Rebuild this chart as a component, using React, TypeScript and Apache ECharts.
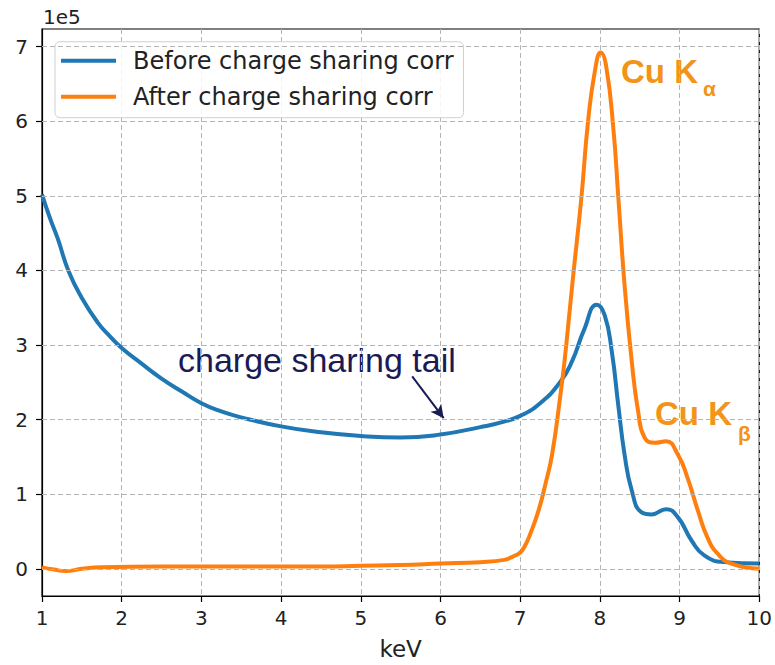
import React, { useEffect, useRef } from "react";
import * as echarts from "echarts";

// Energy (keV) and counts (in units of 1e5)
const beforeKeV = [1.0, 1.1, 1.2, 1.33, 1.5, 1.7, 1.85, 2.0, 2.25, 2.5, 2.75, 3.0, 3.25, 3.5, 4.0, 4.5, 5.0, 5.5, 6.0, 6.5, 6.75, 7.0, 7.25, 7.5, 7.65, 7.8, 7.96, 8.06, 8.15, 8.23, 8.31, 8.4, 8.52, 8.65, 8.83, 8.98, 9.15, 9.31, 9.56, 10.0];
const beforeCounts = [5.02, 4.7, 4.42, 4.0, 3.63, 3.3, 3.12, 2.96, 2.75, 2.55, 2.38, 2.22, 2.11, 2.03, 1.91, 1.83, 1.78, 1.76, 1.8, 1.9, 1.96, 2.05, 2.22, 2.5, 2.78, 3.2, 3.54, 3.4, 2.91, 2.2, 1.53, 1.05, 0.76, 0.73, 0.8, 0.69, 0.38, 0.18, 0.09, 0.07];

const afterKeV = [1.0, 1.15, 1.3, 1.5, 1.75, 2.5, 3.5, 4.5, 5.0, 5.5, 6.0, 6.5, 6.8, 6.9, 7.0, 7.06, 7.12, 7.23, 7.32, 7.4, 7.5, 7.56, 7.62, 7.67, 7.77, 7.85, 7.94, 8.01, 8.08, 8.17, 8.23, 8.31, 8.4, 8.48, 8.56, 8.69, 8.83, 8.98, 9.1, 9.23, 9.35, 9.48, 9.65, 10.0];
const afterCounts = [0.02, -0.01, -0.03, 0.0, 0.02, 0.03, 0.03, 0.03, 0.04, 0.05, 0.07, 0.09, 0.12, 0.16, 0.22, 0.31, 0.45, 0.78, 1.15, 1.53, 2.29, 2.82, 3.45, 3.98, 5.0, 5.98, 6.69, 6.92, 6.73, 5.89, 5.0, 3.8, 2.78, 2.11, 1.76, 1.69, 1.71, 1.53, 1.22, 0.78, 0.42, 0.2, 0.07, 0.0];

const seriesNames = ["Before charge sharing corr", "After charge sharing corr"];
const yTickValues = [0, 1, 2, 3, 4, 5, 6, 7];
const xTickValues = [1, 2, 3, 4, 5, 6, 7, 8, 9, 10];

// annotation arrow (data coordinates)
const arrowFrom = [5.645, 2.58];
const arrowTo = [6.04, 2.02];

const BLUE = "#1f77b4";
const ORANGE = "#ff7f0e";
const ANNOT_ORANGE = "#F29418";
const NAVY = "#1a1a55";
const TXT = "#222";

export default function App() {
  const ref = useRef<HTMLDivElement>(null);
  useEffect(() => {
    if (!ref.current) return;
    const chart = echarts.init(ref.current, null, { renderer: "svg" });
    const pairs = (xs: number[], ys: number[]) => xs.map((x, i) => [x, ys[i]]);
    const dashStyle = { color: "#b5b5b5", width: 1, type: [5, 3] as any };
    chart.setOption({
      animation: false,
      backgroundColor: "#fff",
      grid: { left: 42, right: 13, top: 29, bottom: 66, show: true, borderColor: "#000", borderWidth: 1.2, backgroundColor: "transparent" },
      xAxis: {
        type: "value",
        min: 1,
        max: 10,
        interval: 1,
        name: "keV",
        nameLocation: "middle",
        nameGap: 41,
        nameTextStyle: { fontFamily: "DejaVu Sans", fontSize: 23, color: TXT },
        axisLine: { show: true, onZero: false, lineStyle: { color: "#000", width: 1.2 } },
        axisTick: { show: true, inside: false, length: 6, lineStyle: { color: "#000", width: 1.2 } },
        axisLabel: { margin: 12, fontFamily: "DejaVu Sans", fontSize: 20, color: TXT, customValues: xTickValues },
        splitLine: { show: true, lineStyle: dashStyle },
      },
      yAxis: {
        type: "value",
        min: -0.364,
        max: 7.236,
        axisLine: { show: true, onZero: false, lineStyle: { color: "#000", width: 1.2 } },
        axisTick: { show: true, inside: false, length: 6, lineStyle: { color: "#000", width: 1.2 }, customValues: yTickValues },
        axisLabel: {
          margin: 14,
          fontFamily: "DejaVu Sans",
          fontSize: 20,
          color: TXT,
          customValues: yTickValues,
          formatter: (v: number) => String(v),
        },
        splitLine: { show: false },
      },
      legend: {
        orient: "vertical",
        left: 55,
        top: 41.7,
        data: seriesNames,
        icon: "rect",
        itemWidth: 55,
        itemHeight: 4,
        itemGap: 12,
        padding: [7, 10, 9, 6],
        backgroundColor: "rgba(255,255,255,0.85)",
        borderColor: "#d0d0d0",
        borderWidth: 1,
        borderRadius: 5,
        textStyle: { fontFamily: "DejaVu Sans", fontSize: 24, color: TXT, padding: [0, 0, 0, 12] },
        selectedMode: false,
      },
      series: [
        {
          // horizontal dashed grid lines at the y tick values
          name: "ygrid",
          type: "line",
          data: [],
          silent: true,
          z: 0,
          markLine: {
            silent: true,
            symbol: ["none", "none"],
            label: { show: false },
            lineStyle: dashStyle,
            emphasis: { disabled: true },
            data: yTickValues.map((v) => ({ yAxis: v })),
          },
        },
        {
          name: seriesNames[0],
          type: "line",
          data: pairs(beforeKeV, beforeCounts),
          showSymbol: false,
          smooth: 0.5,
          lineStyle: { color: BLUE, width: 4 },
          itemStyle: { color: BLUE },
          z: 2,
          markLine: {
            silent: true,
            symbol: ["none", "arrow"],
            symbolSize: [10, 13],
            label: { show: false },
            lineStyle: { color: NAVY, width: 2, type: "solid" },
            emphasis: { disabled: true },
            data: [[{ coord: arrowFrom }, { coord: arrowTo }]],
          },
        },
        {
          name: seriesNames[1],
          type: "line",
          data: pairs(afterKeV, afterCounts),
          showSymbol: false,
          smooth: 0.5,
          lineStyle: { color: ORANGE, width: 4 },
          itemStyle: { color: ORANGE },
          z: 3,
        },
      ],
      graphic: [
        { type: "text", left: 43, top: 7, style: { text: "1e5", fontFamily: "DejaVu Sans", fontSize: 20, fill: TXT } },
        { type: "text", x: 621, y: 71.5, style: { text: "Cu K", fontFamily: "Liberation Sans", fontWeight: "bold", fontSize: 33, fill: ANNOT_ORANGE, verticalAlign: "middle", align: "left" } },
        { type: "text", x: 703, y: 88, style: { text: "α", fontFamily: "Liberation Sans", fontWeight: "bold", fontSize: 21, fill: ANNOT_ORANGE, verticalAlign: "middle", align: "left" } },
        { type: "text", x: 655, y: 413, style: { text: "Cu K", fontFamily: "Liberation Sans", fontWeight: "bold", fontSize: 33, fill: ANNOT_ORANGE, verticalAlign: "middle", align: "left" } },
        { type: "text", x: 738, y: 433, style: { text: "β", fontFamily: "Liberation Sans", fontWeight: "bold", fontSize: 21, fill: ANNOT_ORANGE, verticalAlign: "middle", align: "left" } },
        { type: "text", x: 178, y: 360, style: { text: "charge sharing tail", fontFamily: "Liberation Sans", fontSize: 34, fill: NAVY, verticalAlign: "middle", align: "left" } },
      ],
    });
    return () => chart.dispose();
  }, []);
  return <div ref={ref} style={{ width: 775, height: 665, position: "absolute", left: 0, top: 0 }} />;
}
